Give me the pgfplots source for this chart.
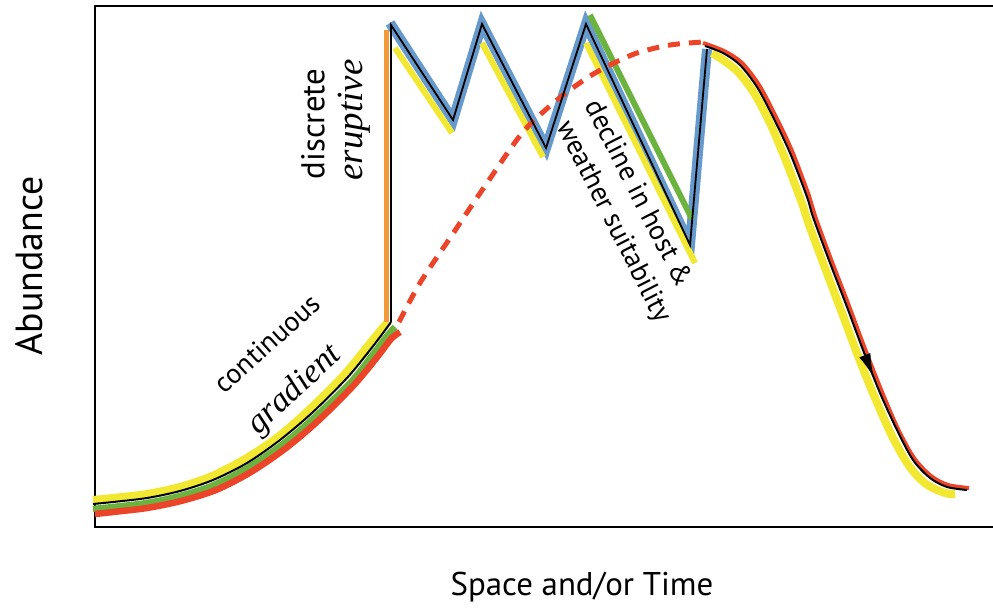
\documentclass[border=0pt]{standalone}
\usepackage{pgfplots}
\pgfplotsset{compat=1.18}
\usetikzlibrary{decorations.markings,arrows.meta}
\usepackage{fontspec}
\setmainfont{PT Sans}
\newfontfamily\serifit{Liberation Serif}[ItalicFont={Liberation Serif Italic}]
\definecolor{ylw}{RGB}{242,232,50}
\definecolor{grn}{RGB}{108,178,62}
\definecolor{rd}{RGB}{235,68,40}
\definecolor{blu}{RGB}{102,153,204}
\definecolor{orng}{RGB}{242,153,56}
\begin{document}
\begin{tikzpicture}
\begin{axis}[
  scale only axis, width=904bp, height=521bp,
  xmin=95, xmax=999, ymin=82, ymax=603,
  xtick=\empty, ytick=\empty,
  axis line style={line width=2.2bp, black},
  clip=false,
]
% left continuous gradient strands
\addplot[draw=ylw, line width=8bp, smooth, line cap=butt] coordinates {(93,109) (113,111) (147,115) (180,122) (212,133) (245,150) (278,172) (310,200) (344,234) (367,262) (380,278) (388,287)};
\addplot[draw=grn, line width=6.5bp, smooth, line cap=butt] coordinates {(93,100) (113,102) (147,106) (180,113) (214,124) (249,142) (283,165) (316,193) (351,227) (374,256) (387,273) (395,282)};
\addplot[draw=rd, line width=6.5bp, smooth, line cap=butt] coordinates {(95,95) (113,97) (147,101) (181,108) (216,119) (251,137) (286,161) (319,189) (354,224) (378,253) (391,270) (400,277)};
\addplot[draw=black, line width=2bp, smooth] coordinates {(93,105) (113,107) (147,111) (180,118) (213,129) (247,146) (280,169) (313,197) (347,231) (370,259) (383,276) (391,287)};
% eruptive zigzag strands
\addplot[draw=orng, line width=5bp, line cap=butt] coordinates {(386,287) (386,579)};
\addplot[draw=blu, line width=10bp, line join=miter, line cap=butt] coordinates {(390,586) (453,489) (482,585) (546,461) (586,585) (690,364) (707,560)};
\addplot[draw=ylw, line width=6bp, line cap=butt] coordinates {(395,561) (452,476)};
\addplot[draw=ylw, line width=6bp, line cap=butt] coordinates {(482,566) (543,452)};
\addplot[draw=ylw, line width=6bp, line cap=butt] coordinates {(586,566) (695,346)};
\addplot[draw=grn, line width=6bp, line cap=butt] coordinates {(590,594) (692,390)};
% right decline strands
\addplot[draw=ylw, line width=8bp, smooth, line cap=butt] coordinates {(712,556) (723,549) (738,537) (754,516) (770,486) (786,448) (803,403) (808,387) (825,341) (842,296) (858,253) (875,211) (892,173) (909,143) (926,125) (945,116) (955,115)};
\addplot[draw=rd, line width=4bp, smooth, line cap=butt] coordinates {(703,566) (724,558) (742,546) (759,524) (775,494) (792,458) (809,413) (815,393) (832,347) (849,303) (865,260) (882,217) (898,180) (914,151) (931,133) (948,124) (969,121)};
% dashed red hidden curve
\addplot[draw=rd, line width=5bp, smooth, dash pattern=on 12bp off 9bp] coordinates {(399,287) (420,326) (450,371) (487,426) (523,477) (557,509) (587,531) (610,544) (637,556) (670,564) (703,567)};
% black lines on top
\addplot[draw=black, line width=1.8bp, line join=miter] coordinates {(391,287) (391,584) (453,489) (482,585) (546,461) (586,585) (690,364) (707,560)};
\addplot[draw=black, line width=2bp, smooth, postaction={decorate},
  decoration={markings, mark=at position 0.71 with {\arrow{Latex[length=24bp,width=12bp]}}}]
  coordinates {(705,563) (723,556) (740,544) (757,522) (773,492) (790,456) (807,412) (813,392) (830,346) (847,302) (863,259) (880,216) (897,179) (913,149) (930,131) (947,122) (967,119)};
% annotations
\node[rotate=42, inner sep=0pt, font=\fontsize{28}{30}\selectfont] at (axis cs:267,266) {continuous};
\node[rotate=43, inner sep=0pt, font=\serifit\itshape\fontsize{34}{36}\selectfont] at (axis cs:295,219) {gradient};
\node[rotate=90, inner sep=0pt, font=\fontsize{33}{35}\selectfont] at (axis cs:313,485) {discrete};
\node[rotate=90, inner sep=0pt, font=\serifit\itshape\fontsize{37}{39}\selectfont] at (axis cs:354,489) {eruptive};
\node[rotate=-63, inner sep=0pt, font=\fontsize{28}{30}\selectfont] at (axis cs:640,416) {decline in host \&};
\node[rotate=-63, inner sep=0pt, font=\fontsize{28}{30}\selectfont] at (axis cs:613,387) {weather suitability};
\node[rotate=90, inner sep=0pt, font=\fontsize{38}{40}\selectfont] at (axis cs:29,343) {Abundance};
\node[inner sep=0pt, font=\fontsize{33}{36}\selectfont] at (axis cs:582,22) {Space and/or Time};
\end{axis}
\pgfresetboundingbox
\path (-95bp,-82bp) rectangle (898bp,527bp);
\end{tikzpicture}
\end{document}
